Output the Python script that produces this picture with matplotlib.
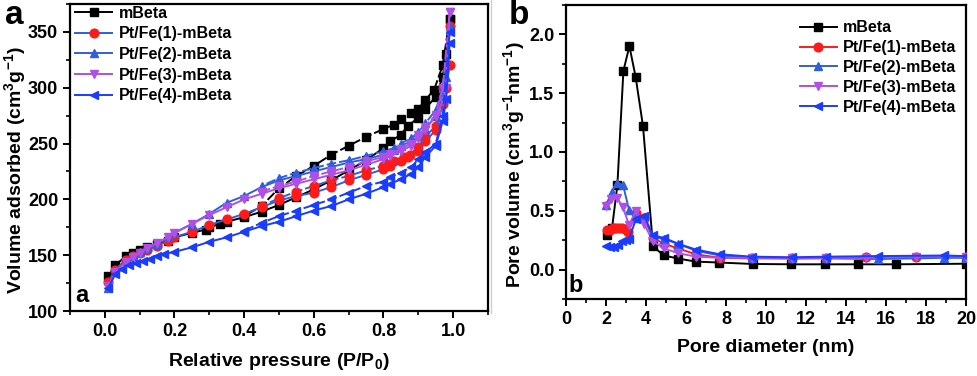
import matplotlib
matplotlib.use("Agg")
import matplotlib.pyplot as plt
from matplotlib.ticker import MultipleLocator
from matplotlib.lines import Line2D

plt.rcParams['font.family'] = ['Liberation Sans', 'DejaVu Sans']
plt.rcParams['font.weight'] = 'bold'
plt.rcParams['mathtext.fontset'] = 'custom'
plt.rcParams['mathtext.rm'] = 'Liberation Sans:bold'
plt.rcParams['mathtext.bf'] = 'Liberation Sans:bold'
plt.rcParams['mathtext.it'] = 'Liberation Sans:bold'
plt.rcParams['mathtext.default'] = 'bf'

labels = ["mBeta", "Pt/Fe(1)-mBeta", "Pt/Fe(2)-mBeta", "Pt/Fe(3)-mBeta", "Pt/Fe(4)-mBeta"]

# ---------- Panel a: N2 isotherms (adsorption / desorption) ----------
m0_ads_p = [0.01, 0.03, 0.06, 0.08, 0.10, 0.12, 0.15, 0.18, 0.20, 0.25, 0.29, 0.30, 0.33, 0.35, 0.40, 0.45, 0.50,
            0.55, 0.60, 0.65, 0.70, 0.75, 0.80, 0.82, 0.85, 0.87, 0.90, 0.92, 0.95, 0.97, 0.98, 0.99]
m0_ads_v = [131, 141, 149, 152, 155, 157, 160, 163, 166, 170, 173, 175, 178, 180, 184, 189, 195,
            202, 209, 217, 226, 235, 246, 252, 258, 266, 273, 281, 292, 310, 330, 362]
m0_des_p = [0.99, 0.97, 0.945, 0.92, 0.90, 0.88, 0.85, 0.83, 0.80, 0.75, 0.70, 0.65, 0.60, 0.55, 0.50, 0.45, 0.40]
m0_des_v = [362, 320, 298, 289, 281, 277, 272, 267, 263, 256, 248, 240, 230, 221, 210, 194, 185]

m1_ads_p = [0.01, 0.03, 0.06, 0.08, 0.10, 0.12, 0.15, 0.18, 0.20, 0.25, 0.30, 0.35, 0.40, 0.45, 0.50, 0.55, 0.60,
            0.65, 0.70, 0.75, 0.80, 0.82, 0.85, 0.87, 0.90, 0.92, 0.95, 0.97, 0.98, 0.99]
m1_ads_v = [126, 137, 146, 149, 152, 155, 158, 163, 166, 171, 177, 182, 187, 193, 199, 203, 206,
            211, 217, 222, 227, 230, 234, 238, 243, 252, 262, 285, 300, 320]
m1_des_p = [0.99, 0.97, 0.95, 0.92, 0.90, 0.875, 0.86, 0.83, 0.81, 0.80, 0.75, 0.70, 0.65, 0.60, 0.55, 0.50, 0.45]
m1_des_v = [355, 300, 266, 256, 247, 240, 238, 234, 232, 230, 226, 221, 217, 212, 207, 201, 194]

m2_ads_p = [0.01, 0.03, 0.06, 0.08, 0.10, 0.12, 0.15, 0.18, 0.20, 0.25, 0.30, 0.35, 0.40, 0.45, 0.50, 0.55, 0.60,
            0.65, 0.70, 0.75, 0.80, 0.83, 0.85, 0.88, 0.90, 0.92, 0.95, 0.97, 0.98, 0.99]
m2_ads_v = [121, 135, 145, 149, 153, 156, 160, 166, 170, 178, 187, 197, 203, 211, 217, 221, 225,
            229, 233, 236, 240, 244, 248, 252, 257, 263, 275, 292, 310, 352]
m2_des_p = [0.99, 0.97, 0.95, 0.92, 0.90, 0.88, 0.85, 0.83, 0.80, 0.75, 0.70, 0.65, 0.60, 0.55, 0.50, 0.45]
m2_des_v = [355, 300, 280, 268, 260, 255, 250, 246, 243, 239, 235, 232, 228, 224, 219, 212]

m3_ads_p = [0.01, 0.03, 0.06, 0.08, 0.10, 0.12, 0.15, 0.18, 0.20, 0.25, 0.30, 0.35, 0.40, 0.45, 0.50, 0.55, 0.60,
            0.65, 0.70, 0.75, 0.80, 0.82, 0.85, 0.88, 0.90, 0.92, 0.95, 0.97, 0.98, 0.99]
m3_ads_v = [122, 135, 144, 148, 152, 156, 161, 166, 170, 178, 186, 193, 200, 205, 210, 214, 218,
            222, 226, 231, 236, 239, 243, 248, 255, 262, 275, 288, 300, 368]
m3_des_p = [0.99, 0.97, 0.95, 0.92, 0.90, 0.88, 0.85, 0.82, 0.80, 0.75, 0.70, 0.65, 0.60, 0.55, 0.50, 0.45]
m3_des_v = [368, 300, 276, 265, 258, 250, 245, 241, 238, 234, 229, 225, 221, 216, 212, 207]

m4_ads_p = [0.01, 0.03, 0.05, 0.07, 0.09, 0.11, 0.13, 0.15, 0.17, 0.20, 0.25, 0.30, 0.35, 0.40, 0.45, 0.50, 0.55,
            0.60, 0.65, 0.70, 0.75, 0.80, 0.82, 0.85, 0.88, 0.90, 0.92, 0.95, 0.97, 0.98, 0.99]
m4_ads_v = [121, 133, 138, 141, 143, 145, 147, 149, 151, 153, 157, 162, 166, 171, 176, 180, 185,
            190, 194, 200, 205, 211, 214, 218, 223, 229, 238, 248, 270, 290, 340]
m4_des_p = [0.99, 0.97, 0.95, 0.92, 0.90, 0.88, 0.85, 0.82, 0.80, 0.75, 0.70, 0.65, 0.60, 0.55, 0.50, 0.45, 0.40]
m4_des_v = [350, 275, 250, 242, 236, 229, 224, 220, 216, 212, 206, 200, 195, 190, 185, 179, 172]

# ---------- Panel b: pore size distributions ----------
d0 = [2.03, 2.3, 2.57, 2.87, 3.17, 3.48, 3.85, 4.35, 4.88, 5.62, 6.48, 7.67, 9.33, 11.27, 12.97, 14.62, 16.5, 20.0]
v0 = [0.29, 0.35, 0.72, 1.69, 1.90, 1.64, 1.22, 0.20, 0.12, 0.094, 0.068, 0.06, 0.048, 0.045, 0.045, 0.045, 0.045, 0.05]

d1 = [2.05, 2.2, 2.35, 2.5, 2.65, 2.8, 2.95, 3.1, 3.5, 3.9, 4.35, 4.9, 5.6, 6.5, 7.7, 9.3, 11.3, 13.0, 15.0, 17.5, 20.0]
v1 = [0.335, 0.34, 0.35, 0.355, 0.355, 0.355, 0.345, 0.32, 0.48, 0.44, 0.27, 0.22, 0.18, 0.13, 0.10, 0.095, 0.095,
      0.10, 0.11, 0.105, 0.11]

d2 = [2.0, 2.3, 2.55, 2.85, 3.15, 3.5, 3.9, 4.35, 4.9, 5.6, 6.5, 7.7, 9.3, 11.3, 13.0, 15.6, 18.9, 20.0]
v2 = [0.55, 0.66, 0.74, 0.72, 0.51, 0.44, 0.45, 0.28, 0.26, 0.22, 0.16, 0.12, 0.10, 0.095, 0.095, 0.09, 0.10, 0.10]

d3 = [2.0, 2.25, 2.55, 2.85, 3.15, 3.5, 3.9, 4.35, 4.9, 5.6, 6.5, 7.7, 9.3, 11.3, 13.0, 15.0, 17.5, 20.0]
v3 = [0.54, 0.60, 0.61, 0.53, 0.38, 0.50, 0.39, 0.24, 0.18, 0.14, 0.11, 0.10, 0.10, 0.10, 0.10, 0.10, 0.11, 0.11]

d4 = [2.0, 2.2, 2.4, 2.6, 2.8, 3.0, 3.15, 3.5, 3.9, 4.35, 4.9, 5.6, 6.5, 7.7, 9.3, 11.3, 13.0, 15.6, 18.9, 20.0]
v4 = [0.20, 0.195, 0.19, 0.21, 0.24, 0.25, 0.26, 0.43, 0.46, 0.29, 0.27, 0.22, 0.17, 0.13, 0.11, 0.105, 0.11,
      0.115, 0.12, 0.115]

# styles
mcol = ['black', '#ff1a1a', '#2f5fe0', '#b04fe6', '#1a3cff']
lcol_a = ['black', '#2f5fe0', '#2f5fe0', '#b04fe6', '#1a3cff']
lcol_b = ['black', '#ff1a1a', '#2f5fe0', '#b04fe6', '#1a3cff']
markers = ['s', 'o', '^', 'v', '<']

fig = plt.figure(figsize=(9.78, 3.76), dpi=100)
W, H = 978, 376
axa = fig.add_axes([70 / W, 1 - 311 / H, (488 - 70) / W, (311 - 4) / H])
axb = fig.add_axes([566 / W, 1 - 299 / H, (966 - 566) / W, (299 - 5) / H])

ads = [(m0_ads_p, m0_ads_v), (m1_ads_p, m1_ads_v), (m2_ads_p, m2_ads_v), (m3_ads_p, m3_ads_v), (m4_ads_p, m4_ads_v)]
des = [(m0_des_p, m0_des_v), (m1_des_p, m1_des_v), (m2_des_p, m2_des_v), (m3_des_p, m3_des_v), (m4_des_p, m4_des_v)]
ms = 6.3
for i in range(5):
    axa.plot(des[i][0], des[i][1], color=lcol_a[i], ls=(0, (5, 1.5)), lw=1.4, marker=markers[i], ms=ms,
             mfc=mcol[i], mec=mcol[i], zorder=2 + i)
    axa.plot(ads[i][0], ads[i][1], color=lcol_a[i], ls='-', lw=1.4, marker=markers[i], ms=ms,
             mfc=mcol[i], mec=mcol[i], label=labels[i], zorder=2 + i)

pb = [(d0, v0), (d1, v1), (d2, v2), (d3, v3), (d4, v4)]
for i in range(5):
    axb.plot(pb[i][0], pb[i][1], color=lcol_b[i], ls='-', lw=1.4, marker=markers[i], ms=ms,
             mfc=mcol[i], mec=mcol[i], label=labels[i], zorder=2 + i)

axa.set_xlim(-0.1, 1.1)
axa.set_ylim(100, 375)
axa.xaxis.set_minor_locator(MultipleLocator(0.1))
axa.yaxis.set_major_locator(MultipleLocator(50))
axa.yaxis.set_minor_locator(MultipleLocator(25))
axa.set_xticks([0.0, 0.2, 0.4, 0.6, 0.8, 1.0])
axa.set_xticklabels(['0.0', '0.2', '0.4', '0.6', '0.8', '1.0'])

axb.set_xlim(0, 20)
axb.set_ylim(-0.25, 2.25)
axb.xaxis.set_major_locator(MultipleLocator(2))
axb.xaxis.set_minor_locator(MultipleLocator(1))
axb.yaxis.set_minor_locator(MultipleLocator(0.25))
axb.set_yticks([0.0, 0.5, 1.0, 1.5, 2.0])

for ax in (axa, axb):
    for s in ax.spines.values():
        s.set_linewidth(1.6)
    ax.tick_params(which='major', direction='out', length=5, width=1.4, labelsize=13, top=False, right=False)
    ax.tick_params(which='minor', direction='out', length=3, width=1.2, top=False, right=False)
    for t in ax.get_xticklabels() + ax.get_yticklabels():
        t.set_fontweight('bold')

axa.set_xlabel('Relative pressure (P/P$_0$)', fontsize=14, fontweight='bold', labelpad=8)
axa.set_ylabel('Volume adsorbed (cm$^{3}$g$^{-1}$)', fontsize=14, fontweight='bold')
axa.yaxis.set_label_coords(-0.1, 0.46)
axb.set_xlabel('Pore diameter (nm)', fontsize=14, fontweight='bold', labelpad=8)
axb.set_ylabel('Pore volume (cm$^{3}$g$^{-1}$nm$^{-1}$)', fontsize=14, fontweight='bold')
axb.yaxis.set_label_coords(-0.097, 0.456)

axa.legend(loc='upper left', bbox_to_anchor=(-0.01, 1.025), frameon=False,
           handlelength=2.3, handletextpad=0.4, labelspacing=0.35, borderaxespad=0.2,
           prop={'weight': 'bold', 'size': 11.5})
axb.legend(loc='upper right', bbox_to_anchor=(1.0, 0.98), frameon=False,
           handlelength=2.3, handletextpad=0.4, labelspacing=0.3, borderaxespad=0.2,
           prop={'weight': 'bold', 'size': 11.5})

fig.text(5 / W, 1 - 16 / H, 'a', fontsize=24, fontweight='bold', va='center', ha='left')
fig.text(509 / W, 1 - 16 / H, 'b', fontsize=24, fontweight='bold', va='center', ha='left')
fig.text(75 / W, 1 - 296 / H, 'a', fontsize=17, fontweight='bold', va='center', ha='left')
fig.text(568 / W, 1 - 285 / H, 'b', fontsize=17, fontweight='bold', va='center', ha='left')

fig.add_artist(Line2D([491 / W, 491 / W], [1 - 313 / H, 1.0], color='#c8d0d8', lw=1.0))

fig.savefig('out.png', dpi=100)
